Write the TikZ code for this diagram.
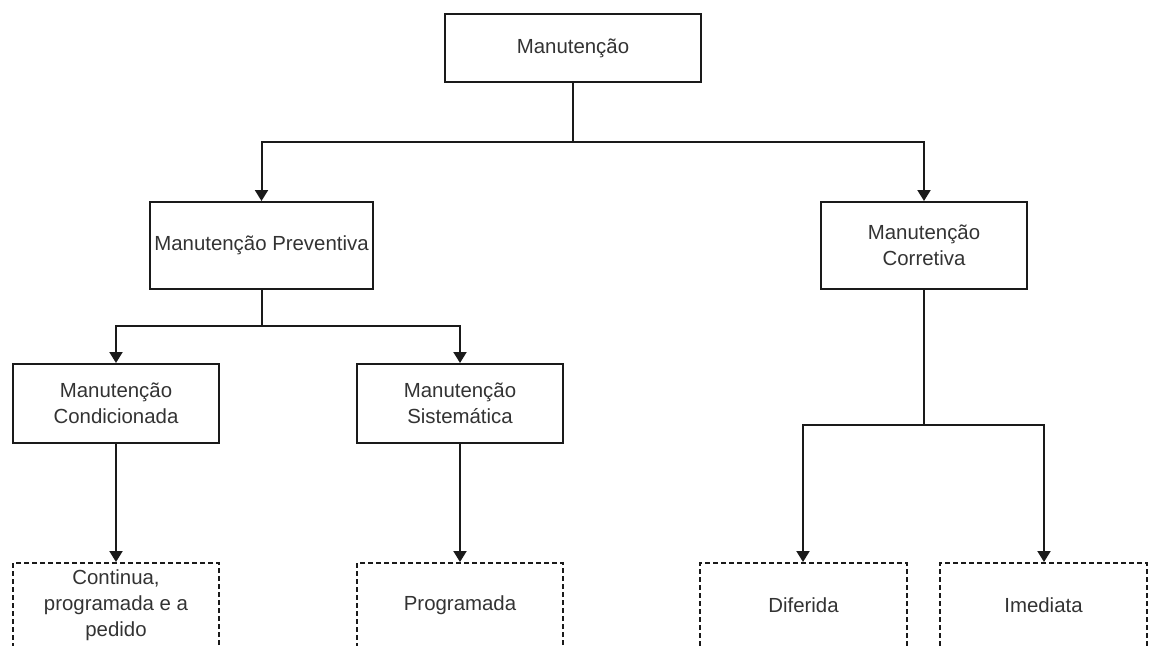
\documentclass[tikz,border=0pt]{standalone}
\usepackage{fontspec}
\setmainfont{Liberation Sans}
\usetikzlibrary{arrows.meta}
\definecolor{txtgray}{HTML}{333333}
\definecolor{linegray}{HTML}{1A1A1A}
\tikzset{
  box/.style={draw=linegray, line width=1pt, fill=white, rectangle,
    inner sep=0pt, align=center, text=txtgray,
    font=\fontsize{10.2pt}{13pt}\selectfont},
  solidbox/.style={box},
  dashbox/.style={box, dash pattern=on 2.5pt off 1.5pt},
  link/.style={draw=linegray, line width=1pt},
  arr/.style={link, -{Triangle[length=5.5pt,width=6.5pt]}},
}
\begin{document}
\begin{tikzpicture}[x=0.5pt, y=-0.5pt]
  \useasboundingbox (0,0) rectangle (1149,645);
  \clip (0,0) rectangle (1149,645);

  % top level
  \node[solidbox, minimum width=128pt, minimum height=34pt] (top) at (573,48) {Manutenção};

  % second level
  \node[solidbox, minimum width=111.5pt, minimum height=43.5pt] (prev) at (261.5,245.5) {Manutenção Preventiva};
  \node[solidbox, minimum width=103pt, minimum height=43.5pt] (corr) at (924,245.5) {Manutenção\\Corretiva};

  % third level
  \node[solidbox, minimum width=103pt, minimum height=39.5pt] (cond) at (116,403.5) {Manutenção\\Condicionada};
  \node[solidbox, minimum width=103pt, minimum height=39.5pt] (sist) at (460,403.5) {Manutenção\\Sistemática};

  % leaf items
  \node[dashbox, minimum width=103pt, minimum height=42pt] (cont) at (116,605) {Continua,\\programada e a\\pedido};
  \node[dashbox, minimum width=103pt, minimum height=42pt] (prog) at (460,605) {Programada};
  \node[dashbox, minimum width=103.5pt, minimum height=42pt] (dif) at (803.5,605) {Diferida};
  \node[dashbox, minimum width=103.5pt, minimum height=42pt] (imed) at (1043.5,605) {Imediata};

  % branch points
  \coordinate (j1) at (573,142);
  \coordinate (j2) at (261.5,326);
  \coordinate (j3) at (924,425);

  % connectors
  \draw[link] (top.south) -- (j1);
  \draw[arr] (j1) -| (prev.north);
  \draw[arr] (j1) -| (corr.north);

  \draw[link] (prev.south) -- (j2);
  \draw[arr] (j2) -| (cond.north);
  \draw[arr] (j2) -| (sist.north);

  \draw[arr] (cond.south) -- (cont.north);
  \draw[arr] (sist.south) -- (prog.north);

  \draw[link] (corr.south) -- (j3);
  \draw[arr] (j3) -| ([xshift=-0.25pt]dif.north);
  \draw[arr] (j3) -| ([xshift=0.25pt]imed.north);
\end{tikzpicture}
\end{document}
